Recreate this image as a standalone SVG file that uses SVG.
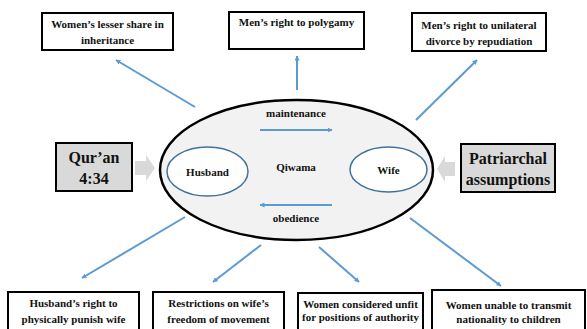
<svg xmlns="http://www.w3.org/2000/svg" width="587" height="329" viewBox="0 0 587 329">
<defs>
<marker id="ah" viewBox="0 0 10 10" refX="9" refY="5" markerWidth="5" markerHeight="5" orient="auto" markerUnits="userSpaceOnUse">
<path d="M0,0 L10,5 L0,10 z" fill="#5b9bd5"/>
</marker>
<style>
.box{fill:#fff;stroke:#000;stroke-width:2}
.src{fill:#d9d9d9;stroke:#000;stroke-width:2}
.t{font-family:"Liberation Serif","Times New Roman",serif;font-weight:bold;font-size:11px;fill:#111;text-anchor:middle}
.big{font-size:16px}
.c{stroke:#5b9bd5;stroke-width:2;fill:none;marker-end:url(#ah)}
.g{fill:#d9d9d9}
.inner{fill:#fff;stroke:#41719c;stroke-width:1.5}
</style>
</defs>
<rect width="587" height="329" fill="#fff"/>
<g id="connectors">
<line class="c" x1="195" y1="107" x2="116" y2="60"/>
<line class="c" x1="297" y1="90" x2="297" y2="56"/>
<line class="c" x1="416" y1="120" x2="477" y2="60"/>
<line class="c" x1="185" y1="217" x2="82" y2="278"/>
<line class="c" x1="261" y1="245" x2="213" y2="282"/>
<line class="c" x1="319" y1="247" x2="359" y2="282"/>
<line class="c" x1="410" y1="218" x2="501" y2="286"/>
<polygon class="g" points="135,161 146,161 146,155 155,168 146,181 146,175 135,175"/>
<polygon class="g" points="455,162 445,162 445,156 437,169 445,182 445,176 455,176"/>
</g>
<g id="qiwama">
<ellipse cx="296.5" cy="170" rx="136.5" ry="70" fill="#f2f2f2" stroke="#000" stroke-width="2.5"/>
<text class="t" x="296" y="117">maintenance</text>
<line class="c" x1="260" y1="130" x2="332" y2="130"/>
<text class="t" x="296" y="171">Qiwama</text>
<line class="c" x1="332" y1="205" x2="260" y2="205"/>
<text class="t" x="296" y="222">obedience</text>
</g>
<g id="husband">
<ellipse class="inner" cx="207.5" cy="171.5" rx="40.5" ry="24.5"/>
<text class="t" x="207.5" y="175.5">Husband</text>
</g>
<g id="wife">
<ellipse class="inner" cx="388.5" cy="169.5" rx="38.5" ry="22.5"/>
<text class="t" x="388.5" y="173.5">Wife</text>
</g>
<g id="quran">
<rect class="src" x="56" y="143" width="76" height="48"/>
<text class="t big" x="94" y="163">Qur’an</text>
<text class="t big" x="94" y="184">4:34</text>
</g>
<g id="patriarchal">
<rect class="src" x="461" y="144" width="94" height="48"/>
<text class="t big" x="508" y="164">Patriarchal</text>
<text class="t big" x="508" y="185">assumptions</text>
</g>
<g id="inheritance">
<rect class="box" x="42" y="13" width="131" height="37"/>
<text class="t" x="107.5" y="28">Women’s lesser share in</text>
<text class="t" x="107.5" y="44">inheritance</text>
</g>
<g id="polygamy">
<rect class="box" x="229" y="12" width="135" height="37"/>
<text class="t" x="296.5" y="26">Men’s right to polygamy</text>
</g>
<g id="divorce">
<rect class="box" x="412" y="13" width="134" height="38"/>
<text class="t" x="479" y="29">Men’s right to unilateral</text>
<text class="t" x="479" y="44.5">divorce by repudiation</text>
</g>
<g id="punish">
<rect class="box" x="8" y="292" width="131" height="40"/>
<text class="t" x="73.5" y="307">Husband’s right to</text>
<text class="t" x="73.5" y="323">physically punish wife</text>
</g>
<g id="movement">
<rect class="box" x="153" y="292" width="131" height="40"/>
<text class="t" x="218.5" y="307">Restrictions on wife’s</text>
<text class="t" x="218.5" y="323">freedom of movement</text>
</g>
<g id="authority">
<rect class="box" x="298" y="293" width="125" height="39"/>
<text class="t" x="360.5" y="308">Women considered unfit</text>
<text class="t" x="360.5" y="321">for positions of authority</text>
</g>
<g id="nationality">
<rect class="box" x="432" y="290" width="153" height="42"/>
<text class="t" x="508.5" y="309">Women unable to transmit</text>
<text class="t" x="508.5" y="323">nationality to children</text>
</g>
</svg>
